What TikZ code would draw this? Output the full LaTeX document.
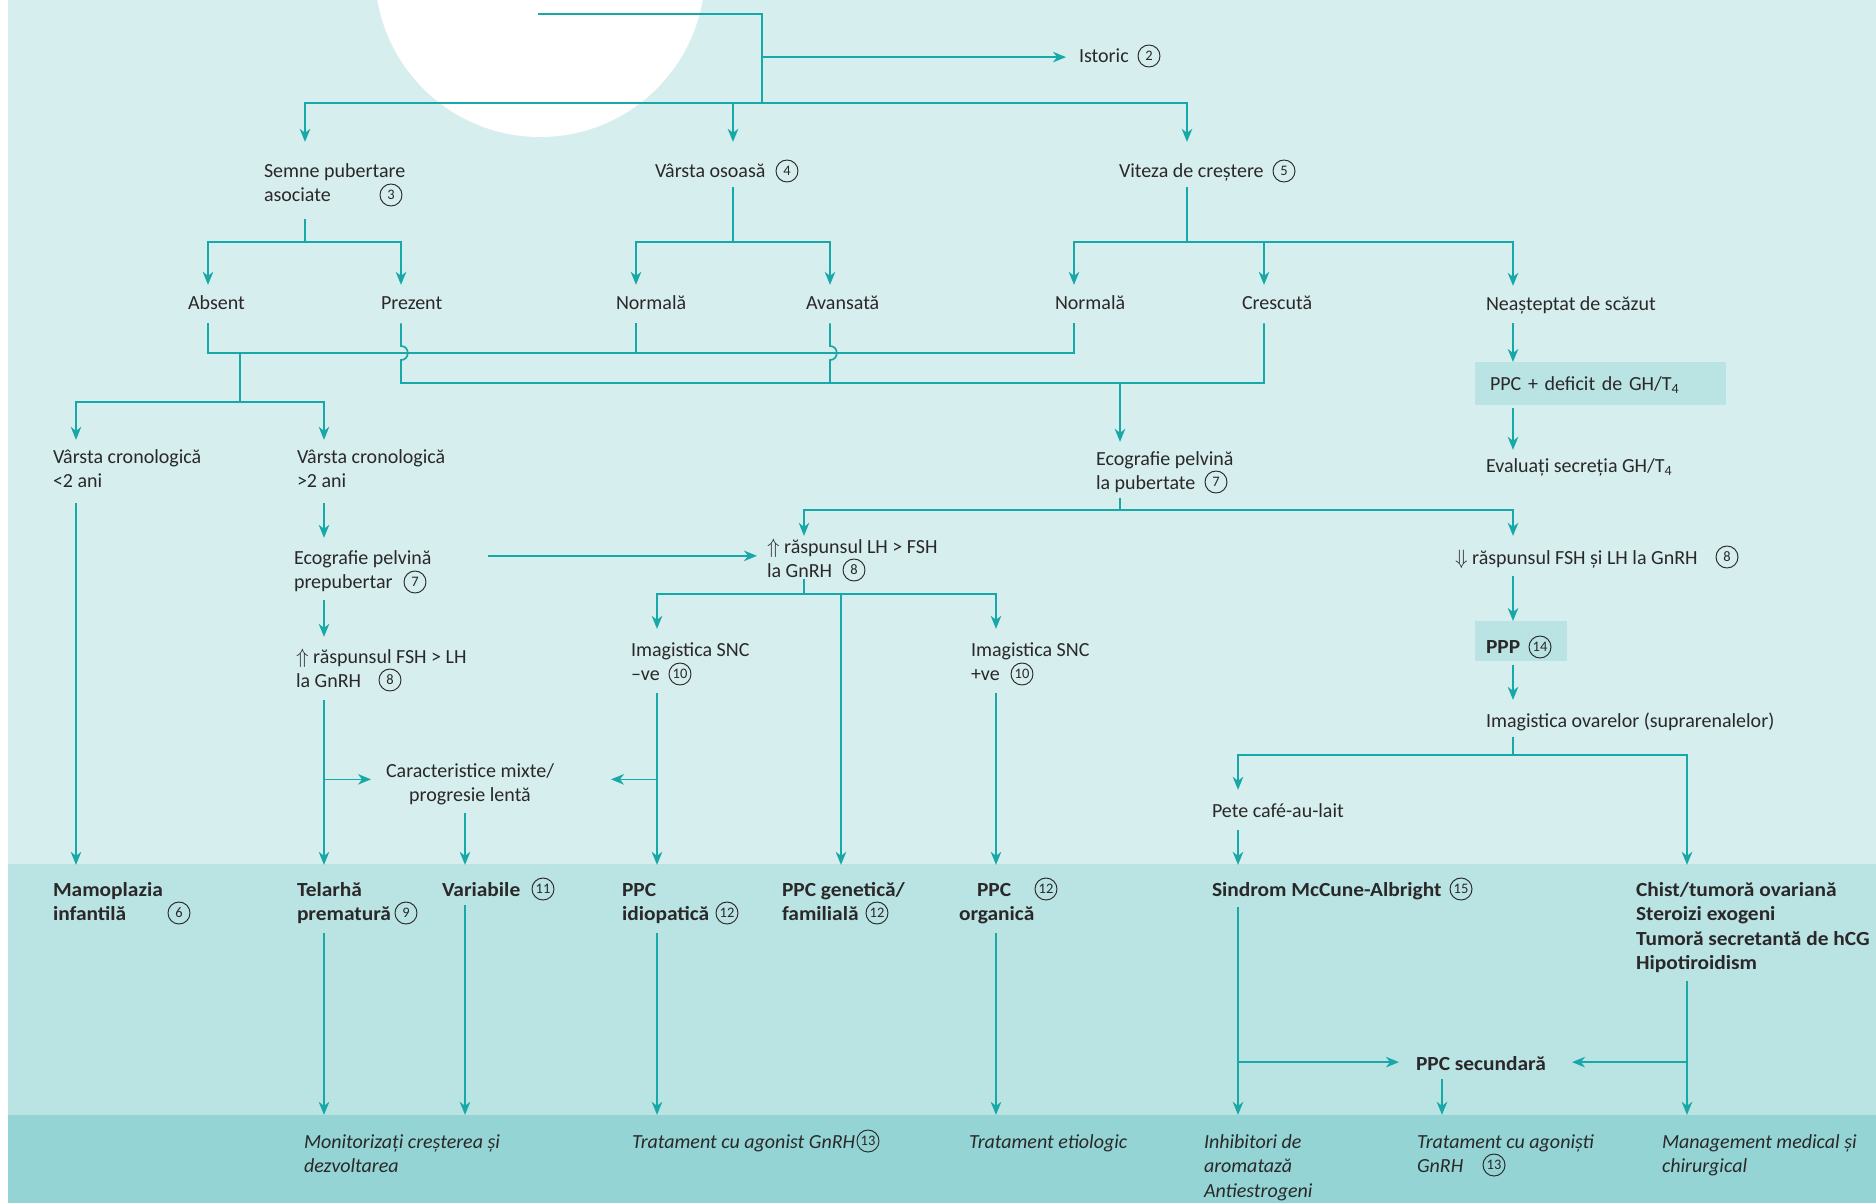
\documentclass[tikz,border=0pt]{standalone}
\usepackage{fontspec}
\setmainfont{Carlito}[BoldFeatures={FakeStretch=1.07}]
\usetikzlibrary{calc,arrows.meta}
\definecolor{bgA}{HTML}{D6EEEE}
\definecolor{bgB}{HTML}{BAE3E3}
\definecolor{bgC}{HTML}{94D4D4}
\definecolor{flow}{HTML}{17A8A7}
\definecolor{ink}{HTML}{2A2829}
% text size with matching strut so that tabular rows are 24.5pt apart
\newcommand{\fs}{\fontsize{20}{24.5}\selectfont\setbox\strutbox\hbox{\vrule height 17.15pt depth 7.35pt width 0pt}}
\newcommand{\ml}[1]{\begin{tabular}[t]{@{}l@{}}#1\end{tabular}}
\newcommand{\mlc}[1]{\begin{tabular}[t]{@{}c@{}}#1\end{tabular}}
\begin{document}
\begin{tikzpicture}[x=1pt,y=-1pt,
  tnode/.style={anchor=base west, inner sep=0pt, outer sep=0pt, text=ink, font=\fs},
  bnode/.style={tnode, font=\fs\bfseries},
  inode/.style={tnode, font=\fs\itshape},
  num/.style={circle, draw=ink, line width=0.95pt, minimum size=22pt, inner sep=0pt, text=ink, font=\fontsize{14.5}{14.5}\selectfont},
  ln/.style={draw=flow, line width=1.7pt},
  arr/.style={ln, -{Stealth[length=13pt,width=10.5pt,inset=4pt]}},
  panel/.style={fill=bgB, inner ysep=0pt, outer sep=0pt, anchor=north west, text=ink, font=\fs, align=left}
]
\useasboundingbox (0,0) rectangle (1876,1203);
% backgrounds
\begin{scope}
  \clip (0,0) rectangle (1876,1203);
  \fill[bgA] (8,0) rectangle (1876,864);
  \fill[white] (540,-28) circle [radius=165pt];
  \fill[bgB] (8,864) rectangle (1876,1115);
  \fill[bgC] (8,1115) rectangle (1876,1203);
\end{scope}

% column and junction points
\coordinate (cSem) at (305,0);
\coordinate (cOso) at (733,0);
\coordinate (cVit) at (1187,0);
\coordinate (cAbs) at (208,0);
\coordinate (cPrez) at (401,0);
\coordinate (cNor1) at (636,0);
\coordinate (cAv) at (830,0);
\coordinate (cNor2) at (1074,0);
\coordinate (cCre) at (1264,0);
\coordinate (cNea) at (1513,0);
\coordinate (cCr1) at (76,0);
\coordinate (cCr2) at (324,0);
\coordinate (cEco) at (1120,0);
\coordinate (cLH) at (804,0);
\coordinate (cM1) at (657,0);
\coordinate (cM2) at (841,0);
\coordinate (cM3) at (996,0);
\coordinate (cMix) at (465,0);
\coordinate (cPete) at (1238,0);
\coordinate (cChist) at (1687,0);
\coordinate (cSec) at (1442,0);

\coordinate (top) at (538,14);
\coordinate (hub) at (762,103);
\coordinate (jS) at (305,242);
\coordinate (jO) at (733,242);
\coordinate (jV) at (1187,242);
\coordinate (jA) at (208,353);
\coordinate (jAr) at (1074,353);
\coordinate (jC0) at (240,353);
\coordinate (jC) at (240,402);
\coordinate (jB) at (401,383);
\coordinate (jBr) at (1264,383);
\coordinate (jE) at (1120,510);
\coordinate (jL) at (804,594);
\coordinate (jO2) at (1513,755);

% nodes
\node[tnode] (istoric) at (1079,62) {\ml{Istoric}};
\node[tnode] (semne) at (264,177) {\ml{Semne pubertare\\asociate}};
\node[tnode] (osoasa) at (655,177) {\ml{Vârsta osoasă}};
\node[tnode] (viteza) at (1119,177) {\ml{Viteza de creștere}};

\node[tnode] (absent) at (188,309) {\ml{Absent}};
\node[tnode] (prezent) at (381,309) {\ml{Prezent}};
\node[tnode] (normala1) at (616,309) {\ml{Normală}};
\node[tnode] (avansata) at (806,309) {\ml{Avansată}};
\node[tnode] (normala2) at (1055,309) {\ml{Normală}};
\node[tnode] (crescuta) at (1242,309) {\ml{Crescută}};
\node[tnode] (neasteptat) at (1486,310) {\ml{Neașteptat de scăzut}};

\node[panel, text width=221pt, inner xsep=15pt, text height=28pt, text depth=15pt] (deficit) at (1475,362) {PPC + deficit de GH/T\textsubscript{4}};

\node[tnode] (cron1) at (53,463) {\ml{Vârsta cronologică\\<2 ani}};
\node[tnode] (cron2) at (297,463) {\ml{Vârsta cronologică\\>2 ani}};
\node[tnode] (ecopub) at (1096,465) {\ml{Ecografie pelvină\\la pubertate}};
\node[tnode] (evaluati) at (1486,472) {\ml{Evaluați secreția GH/T\textsubscript{4}}};

\node[tnode] (ecoprep) at (294,564) {\ml{Ecografie pelvină\\prepubertar}};
\node[tnode] (lhfsh) at (767,553) {\ml{$\Uparrow$ răspunsul LH > FSH\\la GnRH}};
\node[tnode] (fshdown) at (1455,564) {\ml{$\Downarrow$ răspunsul FSH și LH la GnRH}};

\node[tnode] (fshlh) at (296,663) {\ml{$\Uparrow$ răspunsul FSH > LH\\la GnRH}};
\node[tnode] (sncneg) at (631,656) {\ml{Imagistica SNC\\–ve}};
\node[tnode] (sncpos) at (971,656) {\ml{Imagistica SNC\\+ve}};
\node[panel, text width=70pt, inner xsep=11pt, text height=32pt, text depth=8pt, font=\fs\bfseries] (ppp) at (1475,621) {PPP};
\node[tnode] (ovare) at (1486,727) {\ml{Imagistica ovarelor (suprarenalelor)}};

\node[tnode, anchor=base] (mixte) at (470,777) {\mlc{Caracteristice mixte/\\progresie lentă}};
\node[tnode] (pete) at (1212,817) {\ml{Pete café-au-lait}};

\node[bnode] (mamo) at (53,896) {\ml{Mamoplazia\\infantilă}};
\node[bnode] (telarha) at (297,896) {\ml{Telarhă\\prematură}};
\node[bnode] (variabile) at (442,896) {\ml{Variabile}};
\node[bnode] (idiop) at (622,896) {\ml{PPC\\idiopatică}};
\node[bnode] (genet) at (782,896) {\ml{PPC genetică/\\familială}};
\node[bnode] (organica) at (959,896) {\ml{\hspace*{18pt}PPC\\organică}};
\node[bnode] (mccune) at (1212,896) {\ml{Sindrom McCune-Albright}};
\node[bnode] (chist) at (1636,896) {\ml{Chist/tumoră ovariană\\Steroizi exogeni\\Tumoră secretantă de hCG\\Hipotiroidism}};
\node[bnode] (secundara) at (1416,1070) {\ml{PPC secundară}};

\node[inode] (monit) at (304,1148) {\ml{Monitorizați creșterea și\\dezvoltarea}};
\node[inode] (tratag) at (632,1148) {\ml{Tratament cu agonist GnRH}};
\node[inode] (etiol) at (969,1148) {\ml{Tratament etiologic}};
\node[inode] (inhib) at (1204,1148) {\ml{Inhibitori de\\aromatază\\Antiestrogeni}};
\node[inode] (tratag2) at (1417,1148) {\ml{Tratament cu agoniști\\GnRH}};
\node[inode] (manag) at (1662,1148) {\ml{Management medical și\\chirurgical}};

% circled reference numbers
\node[num] (n2) at (1149,56) {2};
\node[num] (n3) at (391,195) {3};
\node[num] (n4) at (787,171) {4};
\node[num] (n5) at (1284,171) {5};
\node[num] (n7a) at (1216,482) {7};
\node[num] (n7b) at (415,582) {7};
\node[num] (n8a) at (854,570) {8};
\node[num] (n8b) at (1727,557) {8};
\node[num] (n8c) at (390,680) {8};
\node[num] (n10a) at (680,674) {10};
\node[num] (n10b) at (1022,674) {10};
\node[num] (n14) at (1540,647) {14};
\node[num] (n6) at (179,913) {6};
\node[num] (n9) at (406,913) {9};
\node[num] (n11) at (543,889) {11};
\node[num] (n12a) at (727,913) {12};
\node[num] (n12b) at (877,913) {12};
\node[num] (n12c) at (1046,889) {12};
\node[num] (n15) at (1461,889) {15};
\node[num] (n13a) at (868,1141) {13};
\node[num] (n13b) at (1494,1165) {13};

% connectors: top
\draw[ln] (top) -| (hub);
\draw[arr] (hub |- istoric.west) -- ($(istoric.west)+(-13,0)$);
\draw[arr] (hub) -| ($(semne.north -| cSem)+(0,-18)$);
\draw[arr] (hub) -| ($(osoasa.north -| cOso)+(0,-18)$);
\draw[arr] (hub) -| ($(viteza.north -| cVit)+(0,-18)$);

% second level
\draw[ln] ($(semne.south -| cSem)+(0,10)$) -- (jS);
\draw[arr] (jS) -| ($(absent.north -| cAbs)+(0,-7)$);
\draw[arr] (jS) -| ($(prezent.north -| cPrez)+(0,-7)$);
\draw[ln] ($(osoasa.south -| cOso)+(0,3)$) -- (jO);
\draw[arr] (jO) -| ($(normala1.north -| cNor1)+(0,-7)$);
\draw[arr] (jO) -| ($(avansata.north -| cAv)+(0,-7)$);
\draw[ln] ($(viteza.south -| cVit)+(0,3)$) -- (jV);
\draw[arr] (jV) -| ($(normala2.north -| cNor2)+(0,-7)$);
\draw[arr] (jV) -| ($(crescuta.north -| cCre)+(0,-7)$);
\draw[arr] (jV) -| ($(neasteptat.north -| cNea)+(0,-7)$);

% merging lines
\draw[ln] ($(absent.south -| cAbs)+(0,7)$) -- (jA) -- (jAr) -- ($(normala2.south -| cNor2)+(0,7)$);
\draw[ln] ($(normala1.south -| cNor1)+(0,7)$) -- (cNor1 |- jA);
\draw[ln] (jC0) -- (jC);
\draw[arr] (jC) -| ($(cron1.north -| cCr1)+(0,-6)$);
\draw[arr] (jC) -| ($(cron2.north -| cCr2)+(0,-6)$);
\draw[ln] ($(prezent.south -| cPrez)+(0,7)$) -- ($(cPrez |- jA)+(0,-7)$)
  .. controls +(9,0) and +(9,0) .. ($(cPrez |- jA)+(0,7)$) -- (jB) -- (jBr)
  -- ($(crescuta.south -| cCre)+(0,7)$);
\draw[ln] ($(avansata.south -| cAv)+(0,7)$) -- ($(cAv |- jA)+(0,-7)$)
  .. controls +(9,0) and +(9,0) .. ($(cAv |- jA)+(0,7)$) -- (cAv |- jB);
\draw[arr] (cEco |- jB) -- ($(ecopub.north -| cEco)+(0,-6)$);

% right column, upper part
\draw[arr] ($(neasteptat.south -| cNea)+(0,6)$) -- (deficit.north -| cNea);
\draw[arr] ($(deficit.south -| cNea)+(0,3)$) -- ($(evaluati.north -| cNea)+(0,-5)$);
\draw[ln] ($(ecopub.south -| cEco)+(0,1)$) -- (jE);
\draw[arr] (jE) -| (lhfsh.north -| cLH);
\draw[arr] (jE) -| ($(fshdown.north -| cNea)+(0,-11)$);

% left column
\draw[arr] ($(cron1.south -| cCr1)+(0,8)$) -- ($(mamo.north -| cCr1)+(0,-14)$);
\draw[arr] ($(cron2.south -| cCr2)+(0,8)$) -- ($(ecoprep.north -| cCr2)+(0,-9)$);
\draw[arr] ($(ecoprep.north east)+(56,9)$) -- ($(lhfsh.north west)+(-10,20)$);
\draw[arr] ($(ecoprep.south -| cCr2)+(0,4)$) -- ($(fshlh.north -| cCr2)+(0,-9)$);
\draw[arr] ($(fshlh.south -| cCr2)+(0,5)$) -- ($(telarha.north -| cCr2)+(0,-14)$);
\coordinate (mixL) at ($(mixte.west)+(-15,-5)$);
\coordinate (mixR) at ($(mixte.east)+(57,-5)$);
\draw[arr] (cCr2 |- mixL) -- (mixL);
\draw[arr] ($(mixte.south -| cMix)+(0,4)$) -- ($(variabile.north -| cMix)+(0,-14)$);

% central branch
\draw[ln] ($(lhfsh.south -| cLH)+(0,-6)$) -- (jL);
\draw[arr] (jL) -| ($(sncneg.north -| cM1)+(0,-10)$);
\draw[arr] (jL) -| ($(sncpos.north -| cM3)+(0,-10)$);
\draw[arr] (cM2 |- jL) -- ($(genet.north -| cM2)+(0,-14)$);
\draw[arr] ($(sncneg.south -| cM1)+(0,5)$) -- ($(idiop.north -| cM1)+(0,-14)$);
\draw[arr] (cM1 |- mixR) -- (mixR);
\draw[arr] ($(sncpos.south -| cM3)+(0,5)$) -- ($(organica.north -| cM3)+(0,-14)$);

% right column, lower part
\draw[arr] ($(fshdown.south -| cNea)+(0,5)$) -- (ppp.north -| cNea);
\draw[arr] ($(ppp.south -| cNea)+(0,4)$) -- ($(ovare.north -| cNea)+(0,-10)$);
\draw[ln] ($(ovare.south -| cNea)+(0,3)$) -- (jO2);
\draw[arr] (jO2) -| ($(pete.north -| cPete)+(0,-10)$);
\draw[arr] (jO2) -| ($(chist.north -| cChist)+(0,-14)$);
\draw[arr] ($(pete.south -| cPete)+(0,6)$) -- ($(mccune.north -| cPete)+(0,-14)$);

% diagnoses to management
\draw[arr] ($(telarha.south -| cCr2)+(0,5)$) -- ($(monit.north -| cCr2)+(0,-16)$);
\draw[arr] ($(variabile.south -| cMix)+(0,2)$) -- ($(monit.north -| cMix)+(0,-16)$);
\draw[arr] ($(idiop.south -| cM1)+(0,5)$) -- ($(tratag.north -| cM1)+(0,-16)$);
\draw[arr] ($(organica.south -| cM3)+(0,5)$) -- ($(etiol.north -| cM3)+(0,-16)$);
\draw[arr] ($(mccune.south -| cPete)+(0,4)$) -- ($(inhib.north -| cPete)+(0,-16)$);
\draw[arr] ($(chist.south -| cChist)+(0,4)$) -- ($(manag.north -| cChist)+(0,-16)$);
\coordinate (secL) at ($(secundara.west)+(-17,-3)$);
\coordinate (secR) at ($(secundara.west)+(156,-3)$);
\draw[arr] (cPete |- secL) -- (secL);
\draw[arr] (cChist |- secR) -- (secR);
\draw[arr] ($(secundara.south -| cSec)+(0,2)$) -- ($(tratag2.north -| cSec)+(0,-16)$);
\end{tikzpicture}
\end{document}
